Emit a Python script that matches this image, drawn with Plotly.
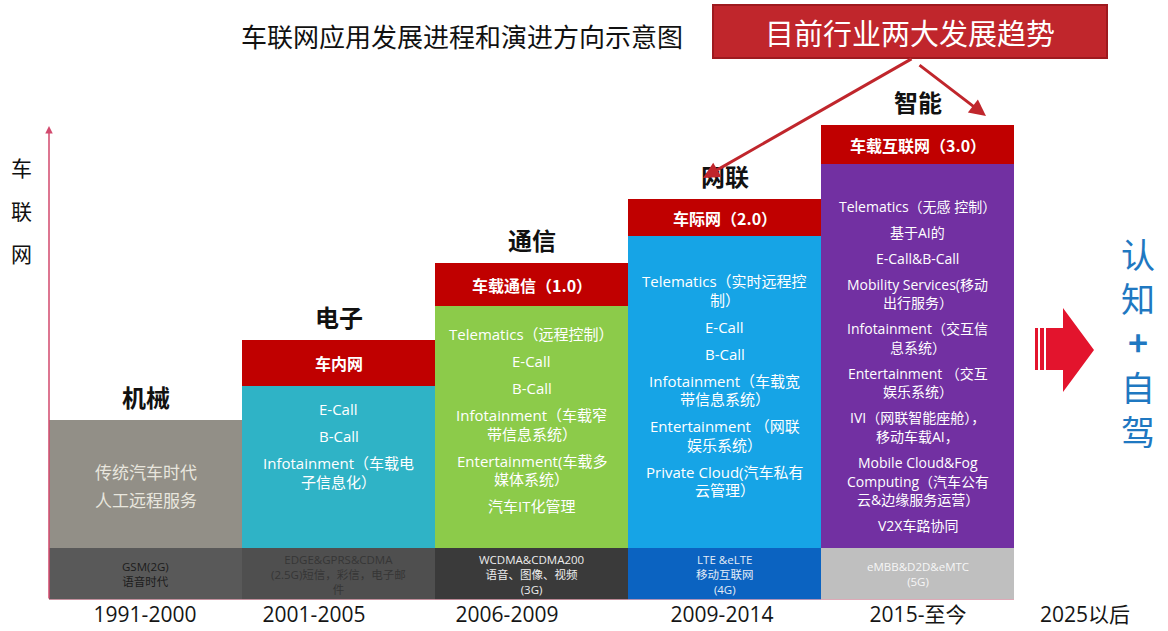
import plotly.graph_objects as go

# ---------------- data ----------------
periods = ["1991-2000", "2001-2005", "2006-2009", "2009-2014", "2015-至今"]
future_label = "2025以后"
stages = ["机械", "电子", "通信", "网联", "智能"]
header_labels = ["", "车内网", "车载通信（1.0）", "车际网（2.0）", "车载互联网（3.0）"]
network_labels = [
    "GSM(2G)<br>语音时代",
    "EDGE&GPRS&CDMA<br>(2.5G)短信，彩信，电子邮<br>件",
    "WCDMA&CDMA200<br>语音、图像、视频<br>(3G)",
    "LTE &eLTE<br>移动互联网<br>(4G)",
    "eMBB&D2D&eMTC<br>(5G)",
]
network_height = [52, 52, 52, 52, 52]
body_height = [128, 162, 242, 312, 384]
header_height = [0, 46, 43, 37, 39]
body_items = [
    ["传统汽车时代", "人工远程服务"],
    ["E-Call", "B-Call", "Infotainment（车载电<br>子信息化）"],
    ["Telematics（远程控制）", "E-Call", "B-Call",
     "Infotainment（车载窄<br>带信息系统）", "Entertainment(车载多<br>媒体系统）", "汽车IT化管理"],
    ["Telematics（实时远程控<br>制）", "E-Call", "B-Call",
     "Infotainment（车载宽<br>带信息系统）", "Entertainment （网联<br>娱乐系统）",
     "Private Cloud(汽车私有<br>云管理）"],
    ["Telematics（无感 控制）", "基于AI的", "E-Call&B-Call",
     "Mobility Services(移动<br>出行服务）", "Infotainment（交互信<br>息系统）",
     "Entertainment （交互<br>娱乐系统）", "IVI（网联智能座舱），<br>移动车载AI，",
     "Mobile Cloud&Fog<br>Computing（汽车公有<br>云&边缘服务运营）", "V2X车路协同"],
]
title_text = "车联网应用发展进程和演进方向示意图"
trend_box_text = "目前行业两大发展趋势"
y_axis_label = "车联网"
outcome_chars = ["认", "知", "+", "自", "驾"]

# ---------------- styles ----------------
body_colors = ["#928f87", "#2fb3c6", "#8ccb4a", "#16a4e6", "#7230a2"]
network_colors = ["#595959", "#4f4f4f", "#3a3a3a", "#0b63c1", "#bfbfbf"]
network_text_colors = ["#1c1c1c", "#363636", "#ececec", "#e3ecf7", "#f6f6f6"]
header_color = "#c00000"
body_text_colors = ["#e8e6de", "white", "white", "white", "white"]
body_font_sizes = [17, 15, 15, 15, 14]
first_line_offset = [52, 23, 28, 45, 42]
item_gap = [28, 27, 27, 27, 26]
wrap_gap = 18.6
FONT = "Open Sans, Noto Sans CJK SC, sans-serif"
CJK = "Noto Sans CJK SC, sans-serif"

W, H = 1168, 631
PX_PER_UNIT = 193.0
LEFT_PX = 49.0
BOTTOM_PX = 600.0


def X(px):
    return (px - LEFT_PX) / PX_PER_UNIT - 0.5


def Y(py):
    return BOTTOM_PX - py


xs = list(range(len(periods)))

fig = go.Figure()
fig.add_trace(go.Bar(x=xs, y=network_height, marker=dict(color=network_colors, line=dict(width=0)),
                     width=1, hoverinfo="skip", showlegend=False))
fig.add_trace(go.Bar(x=xs, y=body_height, marker=dict(color=body_colors, line=dict(width=0)),
                     width=1, hoverinfo="skip", showlegend=False))
fig.add_trace(go.Bar(x=xs, y=header_height, marker=dict(color=header_color, line=dict(width=0)),
                     width=1, hoverinfo="skip", showlegend=False))

ann = []
shapes = []

for i in xs:
    base = network_height[i]
    body_top = base + body_height[i]
    top = body_top + header_height[i]
    # network band label
    ann.append(dict(x=i, y=base / 2, text=network_labels[i], showarrow=False,
                    font=dict(family=FONT, size=11.5, color=network_text_colors[i]),
                    xanchor="center", yanchor="middle"))
    # header label
    if header_height[i] > 0:
        ann.append(dict(x=i, y=body_top + header_height[i] / 2, text="<b>%s</b>" % header_labels[i],
                        showarrow=False, font=dict(family=CJK, size=16, color="white"),
                        xanchor="center", yanchor="middle"))
    # stage label
    ann.append(dict(x=i, y=top + 24, text="<b>%s</b>" % stages[i], showarrow=False,
                    font=dict(family=CJK, size=24, color="#111111"),
                    xanchor="center", yanchor="middle"))
    # body lines
    ypos = body_top - first_line_offset[i]
    for k, item in enumerate(body_items[i]):
        if k > 0:
            ypos -= item_gap[i]
        for j, line in enumerate(item.split("<br>")):
            if j > 0:
                ypos -= wrap_gap
            ann.append(dict(x=i, y=ypos, text=line, showarrow=False,
                            font=dict(family=FONT, size=body_font_sizes[i], color=body_text_colors[i]),
                            xanchor="center", yanchor="middle"))

# title
ann.append(dict(x=X(462), y=Y(35), text=title_text, showarrow=False,
                font=dict(family=CJK, size=26, color="#111111"), xanchor="center", yanchor="middle"))

# trend box
shapes.append(dict(type="rect", xref="x", yref="y", x0=X(713), x1=X(1107), y0=Y(58), y1=Y(5),
                   fillcolor="#c0262c", line=dict(color="#9e1a1f", width=2), layer="above"))
ann.append(dict(x=X(910), y=Y(32), text=trend_box_text, showarrow=False,
                font=dict(family=CJK, size=29, color="white"), xanchor="center", yanchor="middle"))
# trend arrows
for head, tail in [((703, 178), (913, 58)), ((986, 116), (918, 64))]:
    ann.append(dict(x=X(head[0]), y=Y(head[1]), ax=X(tail[0]), ay=Y(tail[1]),
                    xref="x", yref="y", axref="x", ayref="y", text="", showarrow=True,
                    arrowhead=2, arrowsize=1.1, arrowwidth=3, arrowcolor="#c0262c", standoff=0))

# y axis arrow
ann.append(dict(x=X(49), y=Y(126), ax=X(49), ay=Y(600), xref="x", yref="y", axref="x", ayref="y",
                text="", showarrow=True, arrowhead=2, arrowsize=1, arrowwidth=1.5,
                arrowcolor="#d24a6e", standoff=0))
# x axis line
shapes.append(dict(type="line", xref="x", yref="y", x0=X(49), x1=X(1014), y0=0, y1=0,
                   line=dict(color="#e7a3b4", width=1.5)))

# y axis label
for k, ch in enumerate(y_axis_label):
    ann.append(dict(x=X(21), y=Y(167 + 43 * k), text=ch, showarrow=False,
                    font=dict(family=CJK, size=21, color="#111111"), xanchor="center", yanchor="middle"))

# right arrow
shapes.append(dict(type="rect", xref="x", yref="y", x0=X(1035), x1=X(1038), y0=Y(370), y1=Y(328),
                   fillcolor="#e3142d", line=dict(width=0)))
shapes.append(dict(type="rect", xref="x", yref="y", x0=X(1040), x1=X(1044), y0=Y(370), y1=Y(328),
                   fillcolor="#e3142d", line=dict(width=0)))
pts = [(1046, 328), (1063, 328), (1063, 308), (1094, 350), (1063, 392), (1063, 370), (1046, 370)]
path = "M " + " L ".join("%f,%f" % (X(px), Y(py)) for px, py in pts) + " Z"
shapes.append(dict(type="path", xref="x", yref="y", path=path, fillcolor="#e3142d", line=dict(width=0)))

# outcome text (single stacked annotation)
outcome_text = "<br>".join("<b>%s</b>" % ch if ch == "+" else ch for ch in outcome_chars)
ann.append(dict(x=X(1138), y=Y(342), text=outcome_text, showarrow=False,
                font=dict(family=CJK, size=34, color="#1f78c1"), xanchor="center", yanchor="middle"))

tick_positions = [X(p) for p in [145, 314, 507, 722, 918, 1085]]

fig.update_layout(
    width=W, height=H,
    margin=dict(l=0, r=0, t=0, b=31),
    paper_bgcolor="white", plot_bgcolor="white",
    barmode="stack", bargap=0,
    annotations=ann, shapes=shapes,
    showlegend=False,
    xaxis=dict(range=[X(0), X(W)], showgrid=False, zeroline=False, showline=False,
               tickvals=tick_positions, ticktext=periods + [future_label], ticks="",
               tickfont=dict(family=FONT, size=21, color="#151515"), fixedrange=True),
    yaxis=dict(range=[0, 600], visible=False, fixedrange=True),
)

fig.write_html("out.html", config={"displayModeBar": False},
               post_script="document.body.style.margin='0';document.body.style.overflow='hidden';")
